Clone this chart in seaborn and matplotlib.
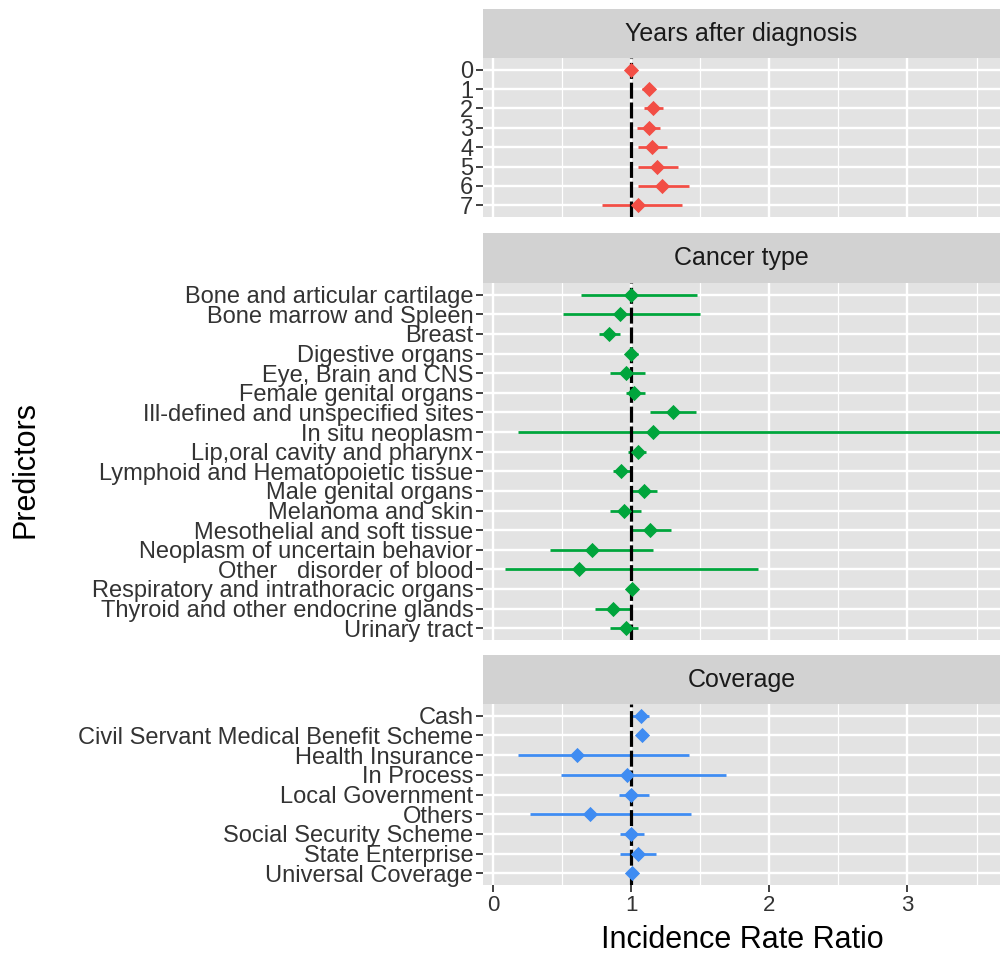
import numpy as np
import pandas as pd
import seaborn as sns
import matplotlib.pyplot as plt

# Years after diagnosis
years_labels = ['0', '1', '2', '3', '4', '5', '6', '7']
years_irr = [1.00, 1.13, 1.16, 1.13, 1.15, 1.19, 1.22, 1.05]
years_lo = [1.00, 1.08, 1.09, 1.04, 1.05, 1.05, 1.05, 0.79]
years_hi = [1.00, 1.17, 1.23, 1.21, 1.26, 1.34, 1.42, 1.37]

# Cancer type
cancer_labels = ['Bone and articular cartilage', 'Bone marrow and Spleen', 'Breast',
                 'Digestive organs', 'Eye, Brain and CNS', 'Female genital organs',
                 'Ill-defined and unspecified sites', 'In situ neoplasm',
                 'Lip,oral cavity and pharynx', 'Lymphoid and Hematopoietic tissue',
                 'Male genital organs', 'Melanoma and skin', 'Mesothelial and soft tissue',
                 'Neoplasm of uncertain behavior', 'Other   disorder of blood',
                 'Respiratory and intrathoracic organs', 'Thyroid and other endocrine glands',
                 'Urinary tract']
cancer_irr = [1.00, 0.92, 0.84, 1.00, 0.96, 1.02, 1.30, 1.16, 1.05, 0.93,
              1.09, 0.95, 1.14, 0.72, 0.62, 1.01, 0.87, 0.96]
cancer_lo = [0.64, 0.51, 0.77, 0.97, 0.85, 0.96, 1.14, 0.18, 0.98, 0.87,
             1.00, 0.85, 0.99, 0.41, 0.09, 1.00, 0.74, 0.85]
cancer_hi = [1.48, 1.50, 0.92, 1.05, 1.10, 1.10, 1.47, 3.90, 1.11, 1.01,
             1.19, 1.07, 1.29, 1.16, 1.92, 1.02, 1.00, 1.05]

# Coverage
cov_labels = ['Cash', 'Civil Servant Medical Benefit Scheme', 'Health Insurance',
              'In Process', 'Local Government', 'Others', 'Social Security Scheme',
              'State Enterprise', 'Universal Coverage']
cov_irr = [1.07, 1.08, 0.61, 0.97, 1.00, 0.70, 1.00, 1.05, 1.01]
cov_lo = [1.00, 1.04, 0.18, 0.49, 0.91, 0.27, 0.92, 0.92, 1.00]
cov_hi = [1.13, 1.11, 1.42, 1.69, 1.13, 1.43, 1.09, 1.18, 1.02]

panels = [
    ('Years after diagnosis', years_labels, years_irr, years_lo, years_hi, '#F24E45'),
    ('Cancer type', cancer_labels, cancer_irr, cancer_lo, cancer_hi, '#00A53C'),
    ('Coverage', cov_labels, cov_irr, cov_lo, cov_hi, '#3F8CF2'),
]

sns.set_theme(style='darkgrid', rc={
    'axes.facecolor': '#E3E3E3',
    'grid.color': 'white',
})
plt.rcParams['font.family'] = ['Liberation Sans', 'DejaVu Sans']

W, H = 1000, 956
fig = plt.figure(figsize=(W / 100, H / 100), dpi=100)

# pixel boxes: (strip_top, panel_top, panel_bottom)
boxes = [(9, 58, 217), (233, 283, 640), (655, 704, 885)]
left, right = 483, 1000

def frac(x0, y0, x1, y1):
    return [x0 / W, 1 - y1 / H, (x1 - x0) / W, (y1 - y0) / H]

for i, ((title, labels, irr, lo, hi, color), (st, pt, pb)) in enumerate(zip(panels, boxes)):
    df = pd.DataFrame({'label': labels, 'irr': irr, 'lo': lo, 'hi': hi})
    df['pos'] = np.arange(len(df))

    strip = fig.add_axes(frac(left, st, right, pt))
    strip.set_facecolor('#D2D2D2')
    strip.grid(False)
    strip.set_xticks([])
    strip.set_yticks([])
    for s in strip.spines.values():
        s.set_visible(False)
    strip.text(0.5, 0.5, title, ha='center', va='center', fontsize=18,
               color='#1A1A1A', transform=strip.transAxes)

    ax = fig.add_axes(frac(left, pt, right, pb))
    ax.hlines(df['pos'], df['lo'], df['hi'], color=color, lw=2.0, zorder=3)
    ax.axvline(1, color='black', lw=2.3, ls=(0, (5, 1.2)), zorder=4)
    sns.scatterplot(data=df, x='irr', y='pos', marker='D', s=60, color=color,
                    linewidth=0, ax=ax, zorder=5)

    ax.set_xlim(-0.072, 3.67)
    ax.set_ylim(len(df) - 0.4, -0.6)
    ax.set_xticks([0, 1, 2, 3])
    ax.set_xticks([0.5, 1.5, 2.5, 3.5], minor=True)
    ax.set_yticks(df['pos'])
    ax.set_yticklabels(df['label'])
    ax.grid(True, which='major', color='white', lw=1.7)
    ax.grid(True, which='minor', axis='x', color='white', lw=0.9)
    ax.tick_params(axis='y', which='major', length=5, width=1.3, color='#333333',
                   labelsize=17, labelcolor='#333333', pad=2, left=True)
    ax.tick_params(axis='x', which='minor', length=0)
    ax.set_xlabel('')
    ax.set_ylabel('')
    for s in ax.spines.values():
        s.set_visible(False)
    if i < 2:
        ax.tick_params(axis='x', which='major', bottom=False, labelbottom=False)
    else:
        ax.tick_params(axis='x', which='major', bottom=True, length=5, width=1.3,
                       color='#333333', labelsize=16, labelcolor='#333333', pad=2)

fig.text(600 / W + 0.142, 1 - 940 / H, 'Incidence Rate Ratio', ha='center', va='center',
         fontsize=22, color='black')
fig.text(25 / W, 1 - 470 / H, 'Predictors', ha='center', va='center', rotation=90,
         fontsize=22, color='black')

fig.savefig('out.png', dpi=100)
